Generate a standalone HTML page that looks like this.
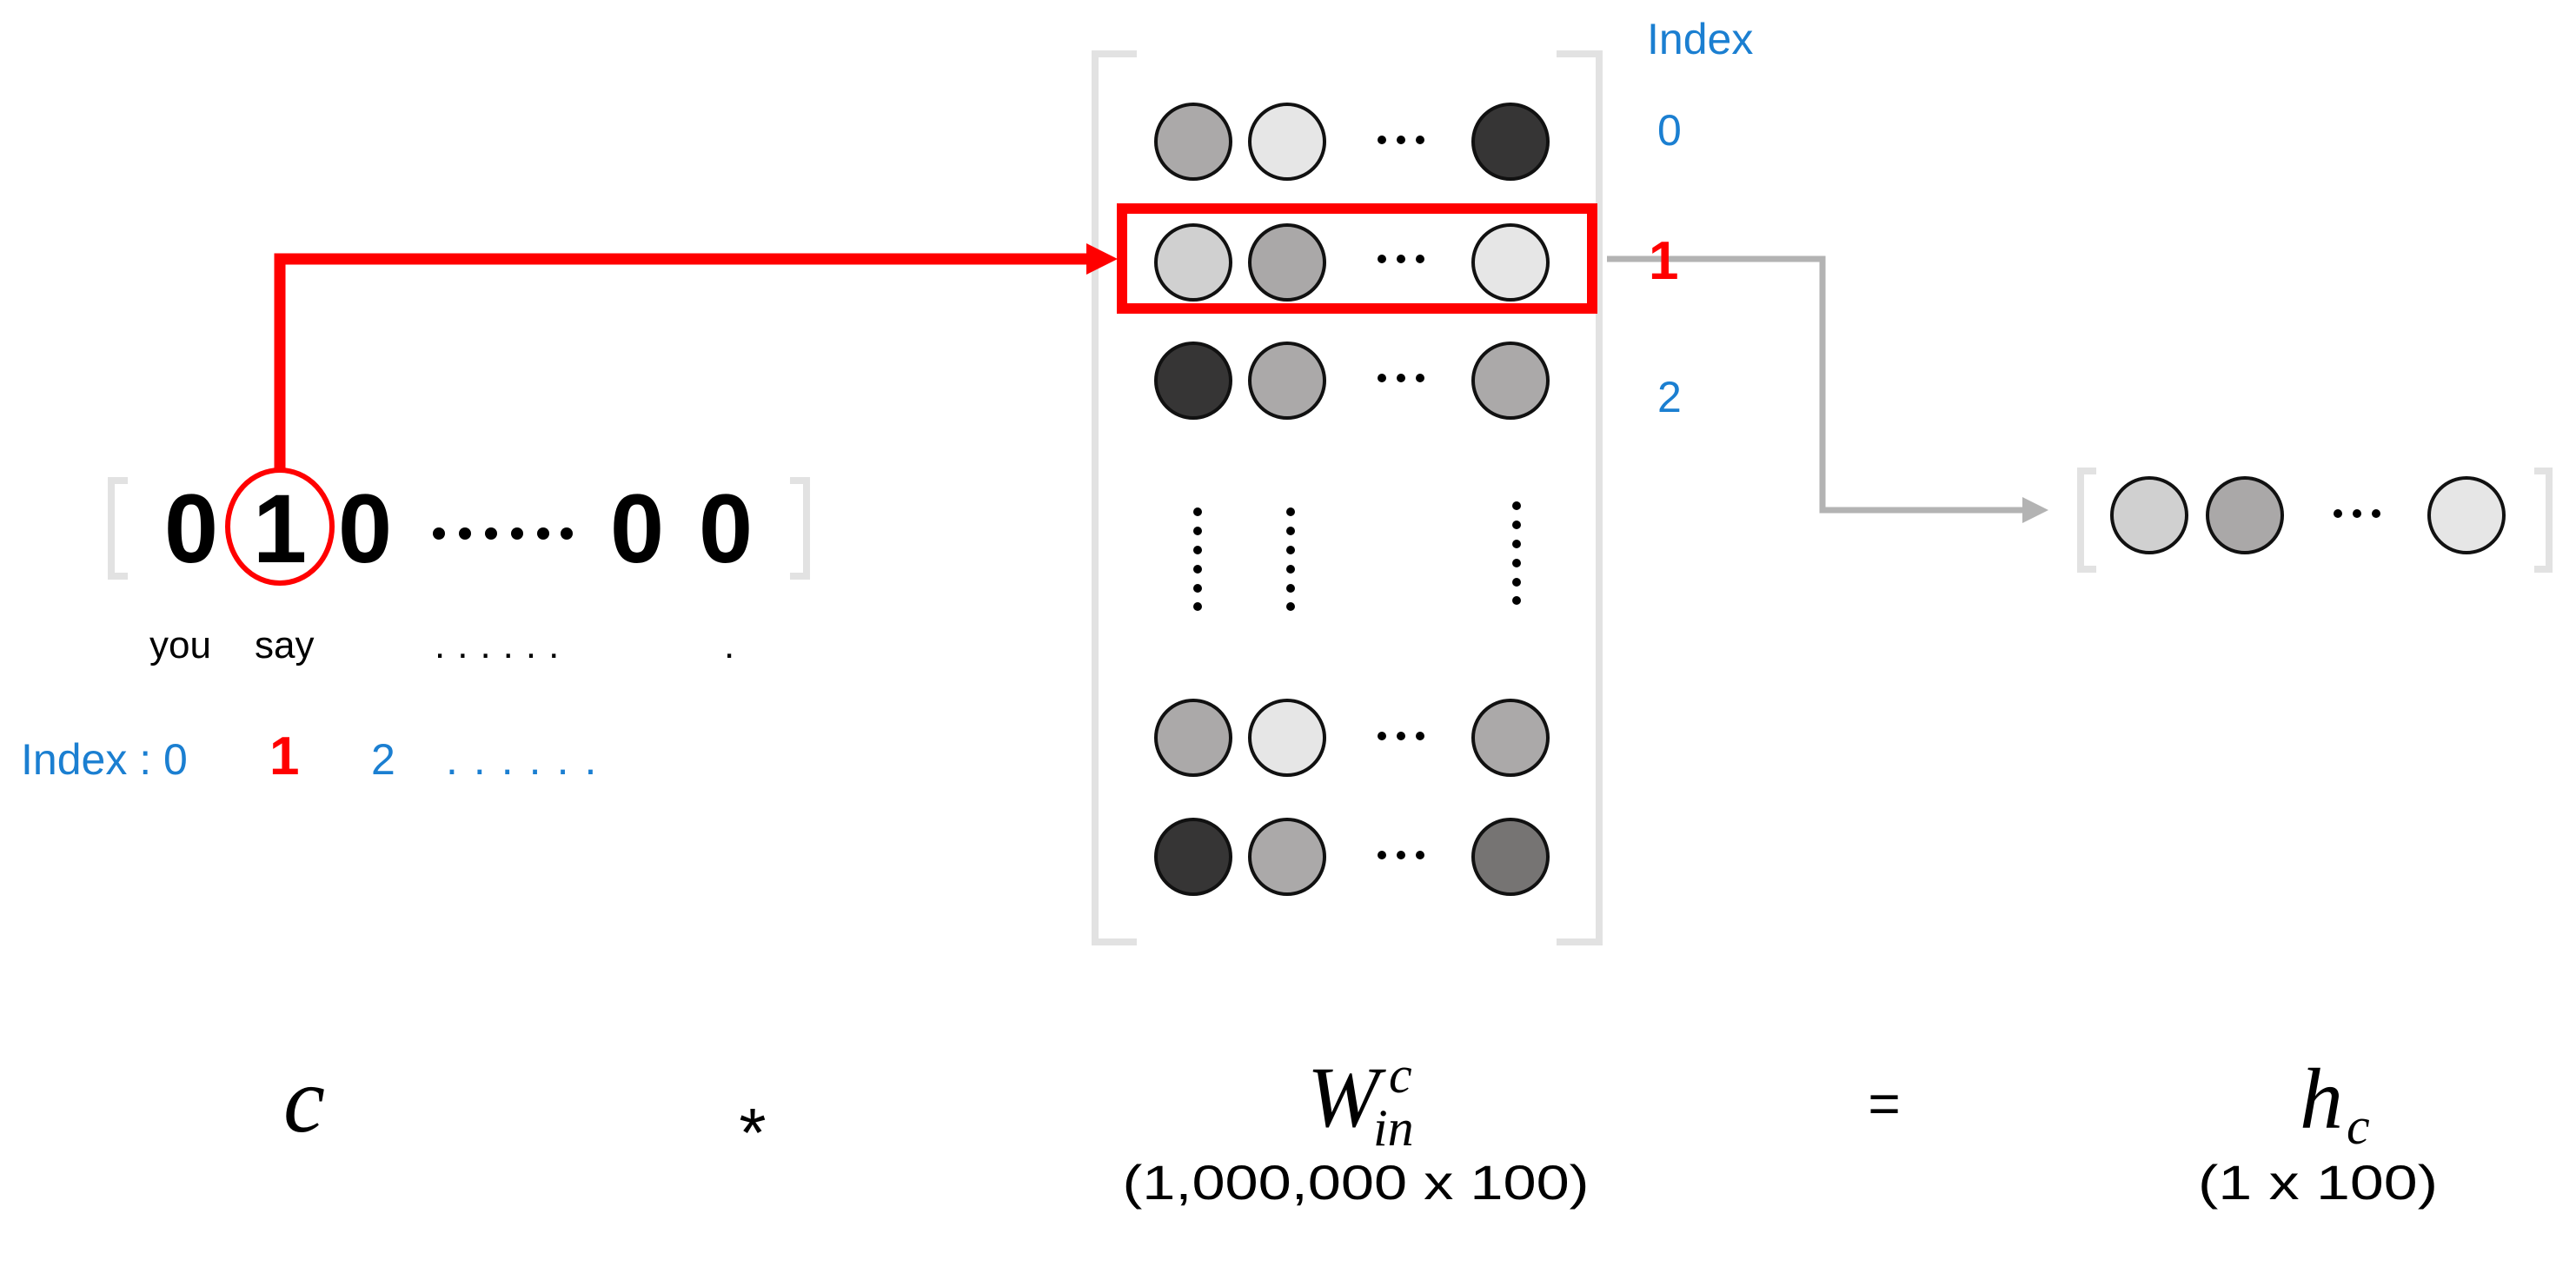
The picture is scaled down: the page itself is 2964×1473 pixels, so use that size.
<!DOCTYPE html>
<html><head><meta charset="utf-8"><style>
html,body{margin:0;padding:0;background:#fff;width:2964px;height:1473px;overflow:hidden}
svg{display:block}
</style></head><body>
<svg width="2964" height="1473" viewBox="0 0 2964 1473" xmlns="http://www.w3.org/2000/svg">
<defs>
  <g id="hd"><circle cx="1590" cy="0" r="5"/><circle cx="1612" cy="0" r="5"/><circle cx="1634" cy="0" r="5"/></g>
  <g id="vd"><circle cx="1378" cy="589" r="5"/><circle cx="1378" cy="611" r="5"/><circle cx="1378" cy="633" r="5"/><circle cx="1378" cy="655" r="5"/><circle cx="1378" cy="677" r="5"/><circle cx="1378" cy="698" r="5"/></g>
</defs>
<g fill="none" stroke="#e2e2e2" stroke-width="8">
  <path d="M147 553 H128 V663 H147"/>
  <path d="M909 553 H928 V663 H909"/>
  <path d="M1308 62 H1260 V1084 H1308"/>
  <path d="M1791 62 H1840 V1084 H1791"/>
  <path d="M2412 542 H2394 V655 H2412"/>
  <path d="M2916 542 H2933 V655 H2916"/>
</g>
<path d="M322 541 V298 H1255" fill="none" stroke="#ff0000" stroke-width="13"/>
<polygon points="1250,280 1286,298 1250,316" fill="#ff0000"/>
<rect x="1291" y="240" width="541" height="115" fill="none" stroke="#ff0000" stroke-width="12"/>
<path d="M1849 298 H2097 V587 H2330" fill="none" stroke="#b3b3b3" stroke-width="7"/>
<polygon points="2327,572 2357,587 2327,602" fill="#b3b3b3"/>
<g font-family="Liberation Sans, sans-serif" font-weight="bold" font-size="112" fill="#000" text-anchor="middle">
  <text x="220" y="647">0</text>
  <text x="322" y="647">1</text>
  <text x="420" y="647">0</text>
  <text x="733" y="647">0</text>
  <text x="835" y="647">0</text>
</g>
<g fill="#000">
  <circle cx="505" cy="614" r="7"/><circle cx="535" cy="614" r="7"/><circle cx="565" cy="614" r="7"/>
  <circle cx="595" cy="614" r="7"/><circle cx="625" cy="614" r="7"/><circle cx="652" cy="614" r="7"/>
</g>
<ellipse cx="322" cy="606" rx="60" ry="65" fill="none" stroke="#ff0000" stroke-width="6"/>
<g font-family="Liberation Sans, sans-serif" font-size="44" fill="#000">
  <text x="172" y="757">you</text>
  <text x="293" y="757">say</text>
  <text x="500" y="757" letter-spacing="14">......</text>
  <text x="833" y="757">.</text>
</g>
<g font-family="Liberation Sans, sans-serif" font-size="50" fill="#1b7fd1">
  <text x="24" y="891">Index : 0</text>
  <text x="427" y="891">2</text>
  <text x="513" y="891" letter-spacing="18">......</text>
  <text x="1895" y="62">Index</text>
  <text x="1907" y="167">0</text>
  <text x="1907" y="474">2</text>
</g>
<g font-family="Liberation Sans, sans-serif" font-weight="bold" font-size="62" fill="#ff0000">
  <text x="310" y="891">1</text>
  <text x="1897" y="321">1</text>
</g>
<g stroke="#111" stroke-width="4">
  <circle cx="1373" cy="163" r="43" fill="#aba9a9"/><circle cx="1481" cy="163" r="43" fill="#e6e6e6"/><circle cx="1738" cy="163" r="43" fill="#363535"/>
  <circle cx="1373" cy="302" r="43" fill="#d0d0d0"/><circle cx="1481" cy="302" r="43" fill="#aaa8a8"/><circle cx="1738" cy="302" r="43" fill="#e6e6e6"/>
  <circle cx="1373" cy="438" r="43" fill="#363535"/><circle cx="1481" cy="438" r="43" fill="#aba9a9"/><circle cx="1738" cy="438" r="43" fill="#aba9a9"/>
  <circle cx="1373" cy="849" r="43" fill="#aba9a9"/><circle cx="1481" cy="849" r="43" fill="#e6e6e6"/><circle cx="1738" cy="849" r="43" fill="#aba9a9"/>
  <circle cx="1373" cy="986" r="43" fill="#363535"/><circle cx="1481" cy="986" r="43" fill="#aba9a9"/><circle cx="1738" cy="986" r="43" fill="#767473"/>
  <circle cx="2473" cy="593" r="43" fill="#d0d0d0"/><circle cx="2583" cy="593" r="43" fill="#aaa8a8"/><circle cx="2838" cy="593" r="43" fill="#e6e6e6"/>
</g>
<g fill="#000">
  <use href="#hd" y="161"/><use href="#hd" y="298"/><use href="#hd" y="435"/><use href="#hd" y="847"/><use href="#hd" y="984"/>
  <circle cx="2690" cy="591" r="5"/><circle cx="2712" cy="591" r="5"/><circle cx="2734" cy="591" r="5"/>
  <use href="#vd"/><use href="#vd" x="107"/><use href="#vd" x="367" y="-7"/>
</g>
<g font-family="Liberation Serif, serif" font-style="italic" fill="#000">
  <text x="350" y="1302" font-size="108" text-anchor="middle">c</text>
  <text x="1504" y="1296" font-size="100">W</text>
  <text x="1598" y="1257" font-size="60">c</text>
  <text x="1580" y="1318" font-size="60">in</text>
  <text x="2646" y="1298" font-size="100">h</text>
  <text x="2700" y="1316" font-size="60">c</text>
</g>
<g font-family="Liberation Sans, sans-serif" fill="#000" text-anchor="middle">
  <text x="866" y="1331" font-size="80">*</text>
  <text x="2168" y="1292" font-size="64">=</text>
  <text x="1560" y="1380" font-size="56" textLength="537" lengthAdjust="spacingAndGlyphs">(1,000,000 x 100)</text>
  <text x="2667" y="1380" font-size="56" textLength="276" lengthAdjust="spacingAndGlyphs">(1 x 100)</text>
</g>
</svg>
</body></html>
